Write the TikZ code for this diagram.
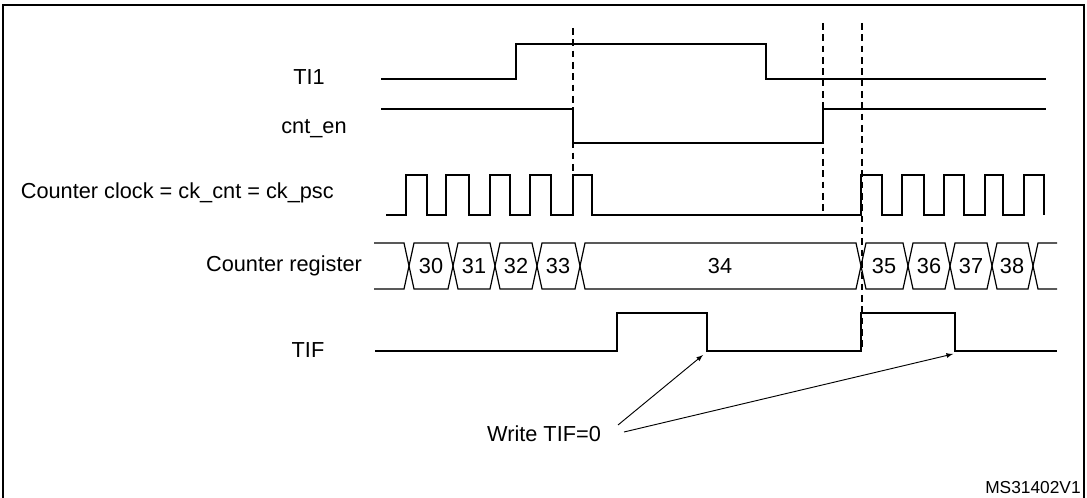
\documentclass[tikz,border=0pt]{standalone}
\usepackage{fontspec}
\setmainfont{Liberation Sans}
\begin{document}
\begin{tikzpicture}[x=0.75pt,y=-0.75pt,
  sig/.style={line width=0.9pt},
  dsh/.style={line width=0.9pt,dash pattern=on 5pt off 3.5pt},
  lbl/.style={font=\fontsize{16.3}{19}\selectfont,inner sep=0pt},
  num/.style={font=\fontsize{16.3}{19}\selectfont,inner sep=0pt},
  arr/.style={line width=0.7pt,-latex}]
\useasboundingbox (0,0) rectangle (1087,498);
\draw[line width=1.8pt] (3,520) -- (3,5) -- (1084,5) -- (1084,520);
% labels
\node[lbl] (lti) at (309,77) {TI1};
\node[lbl] (lcnt) at (314,129) {cnt\_en};
\node[lbl,anchor=east] (lclk) at (334,193) {Counter clock = ck\_cnt = ck\_psc};
\node[lbl] (lreg) at (284,266) {Counter register};
\node[lbl] (ltif) at (308,350) {TIF};
% dashed
\draw[dsh] (573,28) -- (573,215);
\draw[dsh] (823,23) -- (823,215);
\draw[dsh] (862,23) -- (862,351);
% TI1
\draw[sig] (381,79) -- (516,79) -- (516,44) -- (766,44) -- (766,79) -- (1046,79);
% cnt_en
\draw[sig] (381,109) -- (573,109) -- (573,143) -- (823,143) -- (823,109) -- (1046,109);
% clock
\draw[sig] (386,215) -- (406,215)
  -- (406,175) -- (427,175) -- (427,215) -- (446,215)
  -- (446,175) -- (469,175) -- (469,215) -- (490,215)
  -- (490,175) -- (510,175) -- (510,215) -- (530,215)
  -- (530,175) -- (551,175) -- (551,215) -- (573,215)
  -- (573,175) -- (592,175) -- (592,215) -- (861,215)
  -- (861,175) -- (882,175) -- (882,215) -- (902,215)
  -- (902,175) -- (924,175) -- (924,215) -- (944,215)
  -- (944,175) -- (964,175) -- (964,215) -- (985,215)
  -- (985,175) -- (1003,175) -- (1003,215) -- (1024,215)
  -- (1024,175) -- (1044,175) -- (1044,215);
% counter register
\def\t{243}\def\b{289}\def\m{266}
\draw[sig] (374,\t) -- (404,\t) -- (409,\m) -- (404,\b) -- (374,\b);
\foreach \a/\c in {409/453,453/495,495/537,537/580,861/908,908/950,950/992,992/1033}{
  \draw[sig] (\a,\m) -- (\a+5,\t) -- (\c-5,\t) -- (\c,\m) -- (\c-5,\b) -- (\a+5,\b) -- cycle;}
\draw[sig] (580,\m) -- (585,\t) -- (856,\t) -- (861,\m) -- (856,\b) -- (585,\b) -- cycle;
\draw[sig] (1057,\t) -- (1038,\t) -- (1033,\m) -- (1038,\b) -- (1057,\b);
\foreach \x/\n in {431/30,474/31,516/32,558/33,720/34,884/35,929/36,971/37,1012/38}
  \node[num] (n\n) at (\x,\m) {\n};
% TIF
\draw[sig] (375,351) -- (617,351) -- (617,313) -- (707,313) -- (707,351) -- (861,351) -- (861,313) -- (955,313) -- (955,351) -- (1057,351);
\coordinate (t1) at (703,355);
\coordinate (t2) at (953,354);
\node[lbl] (w) at (544,434) {Write TIF=0};
\draw[arr] (618,425) -- (t1);
\draw[arr] (624,432) -- (t2);
\node[font=\fontsize{13}{15}\selectfont,inner sep=0pt,anchor=west] (ms) at (985,488) {MS31402V1};
\end{tikzpicture}
\end{document}
